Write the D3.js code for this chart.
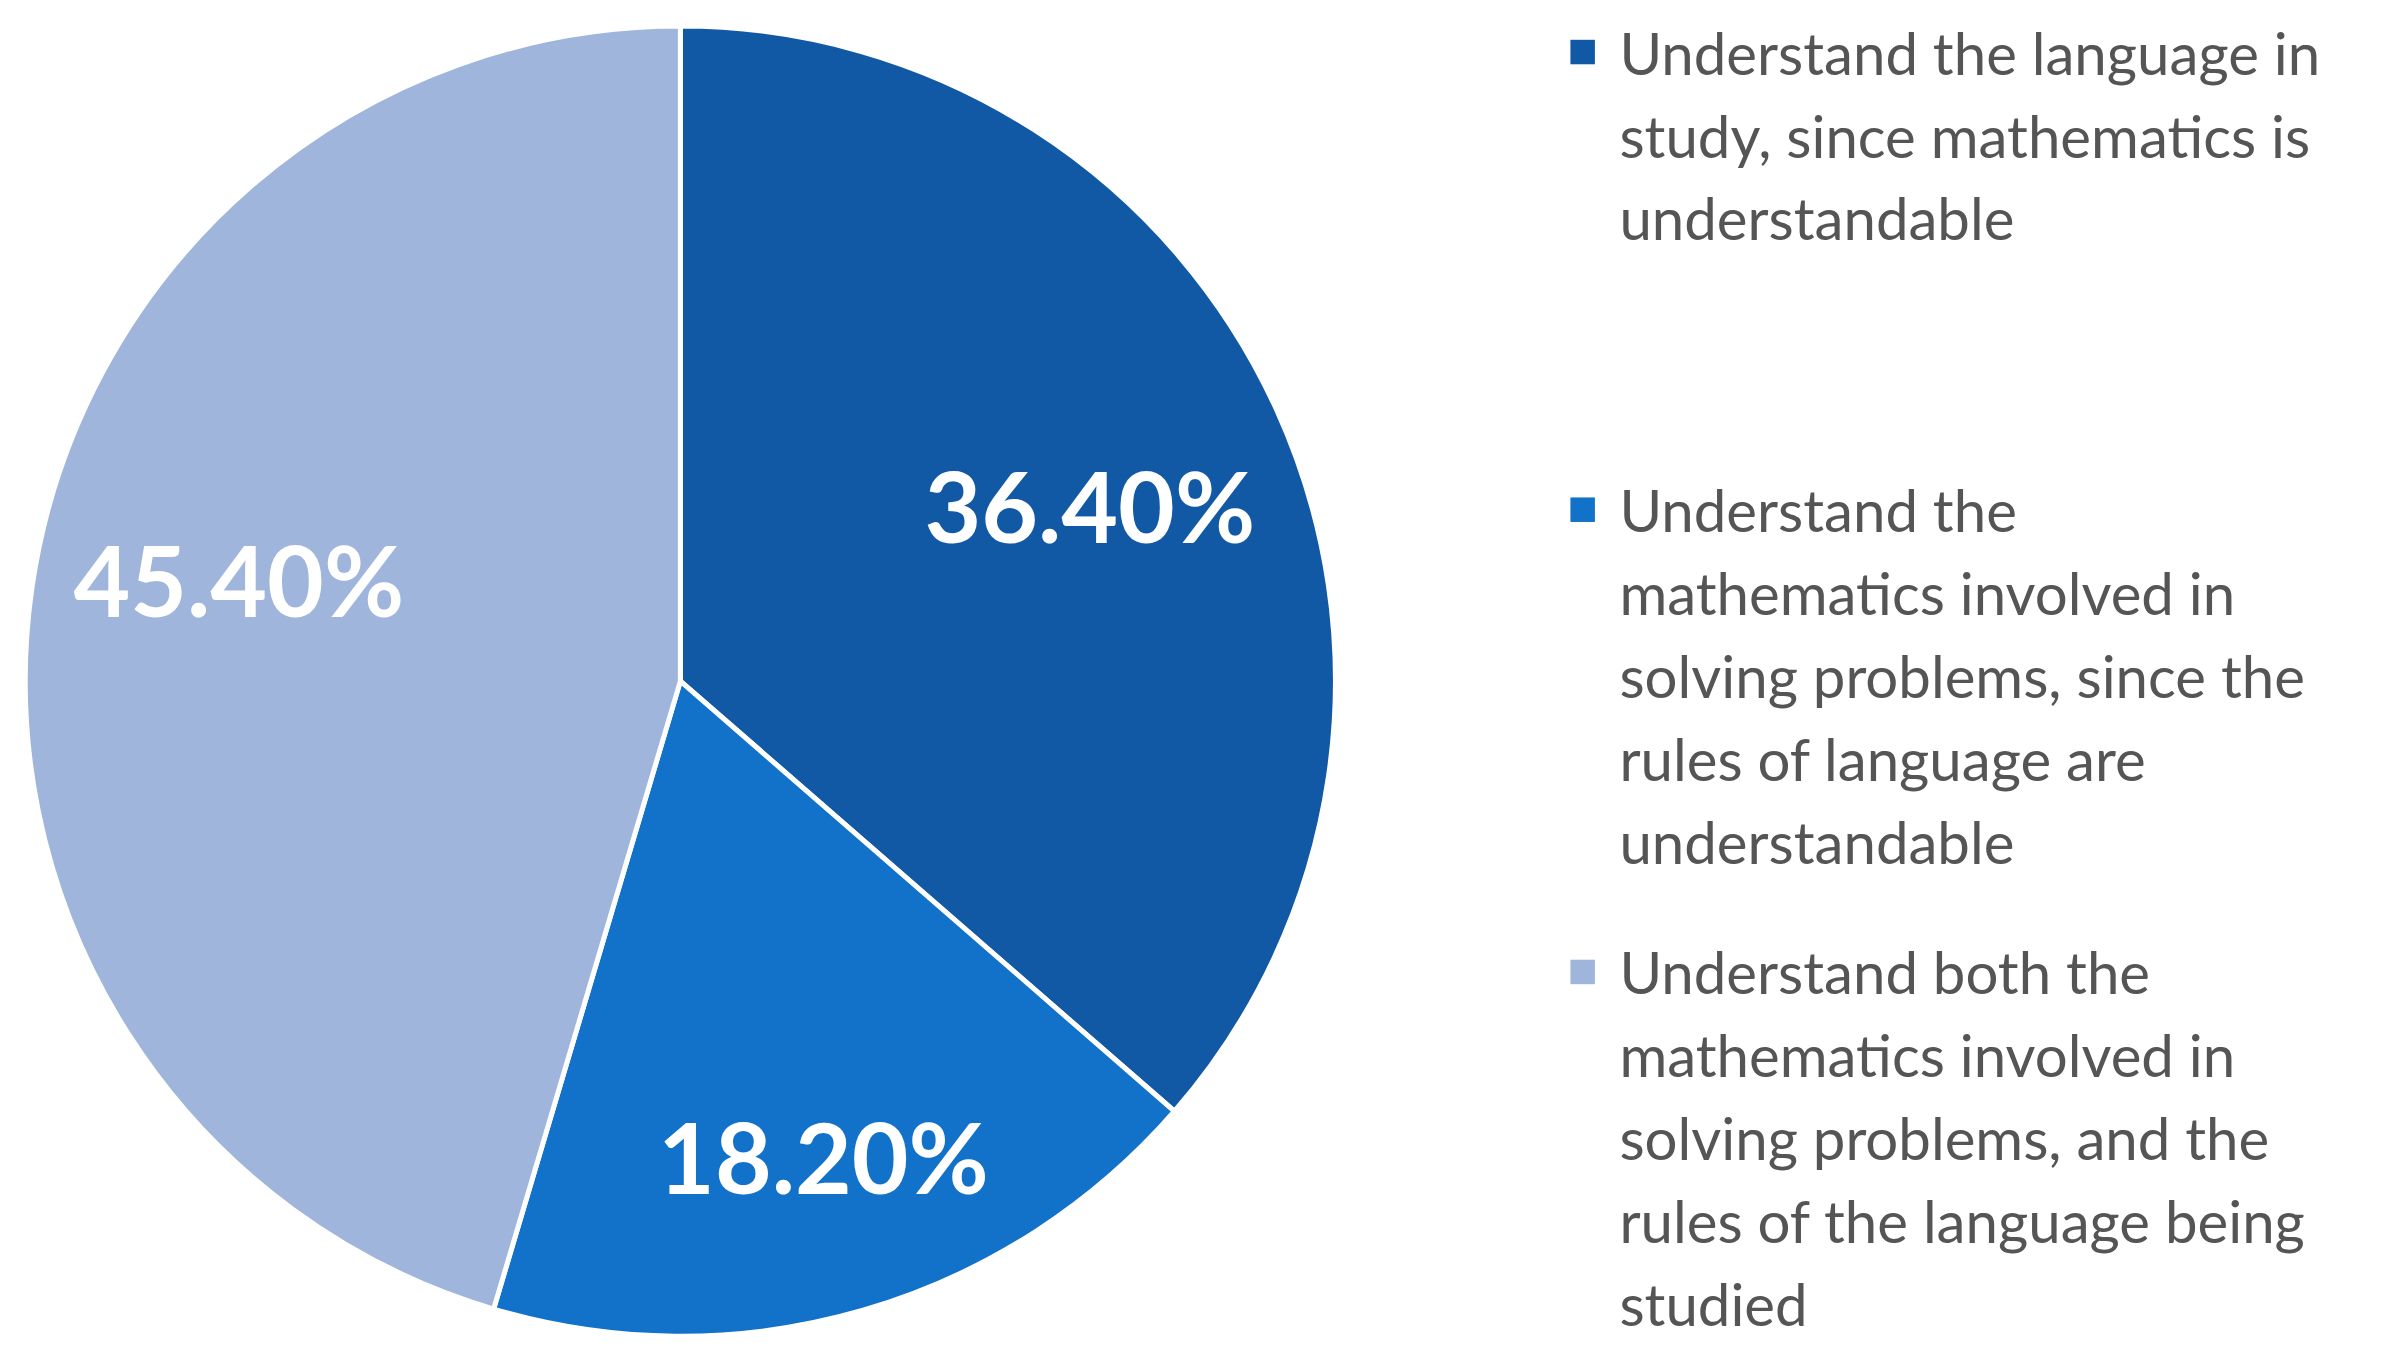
<!DOCTYPE html>
<html><head><meta charset="utf-8">
<script src="https://cdn.jsdelivr.net/npm/d3@7"></script>
<style>body{margin:0;background:#fff}</style></head>
<body><svg id="c" width="2400" height="1352"></svg>
<script>
const categories = [
  ["Understand the language in","study, since mathematics is","understandable"],
  ["Understand the","mathematics involved in","solving problems, since the","rules of language are","understandable"],
  ["Understand both the","mathematics involved in","solving problems, and the","rules of the language being","studied"]
];
const values = [36.4, 18.2, 45.4];
const labels = ["36.40%", "18.20%", "45.40%"];
const colors = ["#1259A5", "#1271C8", "#A0B5DC"];

const s = 2400/1568;
const svg = d3.select("#c");
const cx = 444.5*s, cy = 445*s, r = 428*s;
const pie = d3.pie().sort(null).value(d=>d)(values);
const arc = d3.arc().innerRadius(0).outerRadius(r);
const g = svg.append("g").attr("transform",`translate(${cx},${cy})`);
g.selectAll("path").data(pie).join("path").attr("d",arc)
  .attr("fill",(d,i)=>colors[i]).attr("stroke","#fff").attr("stroke-width",5);
const labelPos = [[712,330],[538,755],[156,378]];
g.selectAll("text").data(pie).join("text")
  .attr("x",(d,i)=>labelPos[i][0]*s-cx).attr("y",(d,i)=>labelPos[i][1]*s-cy)
  .attr("text-anchor","middle").attr("dominant-baseline","central")
  .attr("fill","#fff").attr("font-family","Lato, 'Open Sans', sans-serif").attr("font-weight","bold")
  .attr("font-size",64*s).text((d,i)=>labels[i]);

const groupTop = [34, 333, 635];
const lh = 54.2;
categories.forEach((lines,i)=>{
  svg.append("rect").attr("x",1026*s).attr("y",(groupTop[i]-8)*s).attr("width",16*s).attr("height",16*s).attr("fill",colors[i]);
  lines.forEach((t,j)=>{
    svg.append("text").attr("x",1058*s).attr("y",(groupTop[i]+j*lh)*s)
      .attr("dominant-baseline","central").attr("fill","#555")
      .attr("font-family","Lato, 'Open Sans', sans-serif").attr("font-size",38*s).text(t);
  });
});
</script></body></html>
